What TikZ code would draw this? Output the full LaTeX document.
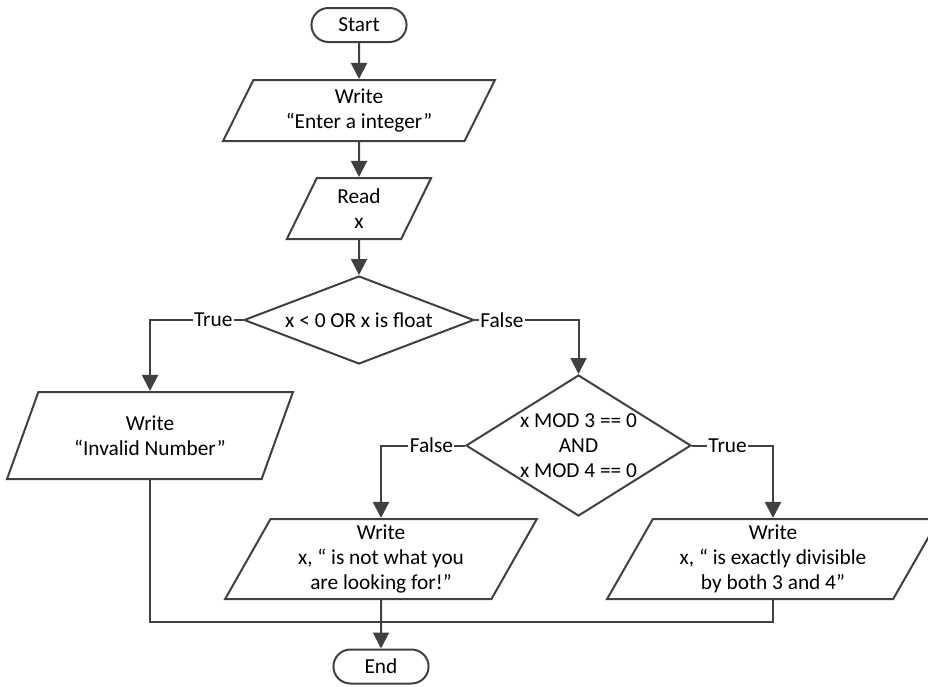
\documentclass[tikz,border=0pt]{standalone}
\usepackage{fontspec}
\setmainfont{Carlito}
\usetikzlibrary{
    arrows.meta,
    shapes.geometric,
    shapes.misc,
    positioning
}
\definecolor{flowgray}{RGB}{64,64,64}
\tikzset{
    % Box styles
    terminal box/.style={
        draw=flowgray,
        line width=1.5pt,
        rounded rectangle,
        minimum width=78pt,
        minimum height=25.5pt,
        align=center
    },
    io box/.style={
        draw=flowgray,
        line width=1.5pt,
        trapezium,
        trapezium left angle=#1,
        trapezium right angle={180-#1},
        trapezium stretches=true,
        inner sep=1pt,
        align=center
    },
    decision box/.style={
        draw=flowgray,
        line width=1.5pt,
        diamond,
        inner sep=0pt,
        align=center
    },
    % Arrow styles
    flow line/.style={
        draw=flowgray,
        line width=1.5pt
    },
    flow arrow/.style={
        flow line,
        -{Triangle[width=12pt,length=12pt]}
    },
    line label/.style={
        fill=white,
        inner sep=1pt,
        text=black
    },
    every node/.style={font=\fontsize{16}{18.75}\selectfont}
}

\begin{document}
\begin{tikzpicture}[x=0.75pt,y=-0.75pt]
        \useasboundingbox (0,0) rectangle (928,686);

        % Define nodes
        \node[terminal box] (start) at (359,25) {Start};
        \node[io box=65, minimum width=204pt, minimum height=45.75pt] (prompt) at (359,110.5) {Write\\“Enter a integer”};
        \node[io box=69, minimum width=108.75pt, minimum height=45.75pt] (read) at (359,208.5) {Read\\x};
        \node[decision box, aspect=2.6, minimum width=172.5pt, minimum height=66pt] (check) at (359,320) {x < 0 OR x is float};
        \node[io box=63, minimum width=214.5pt, minimum height=65.25pt] (invalid) at (150,435.5) {Write\\“Invalid Number”};
        \node[decision box, aspect=1.6, minimum width=168.75pt, minimum height=105.75pt] (divisible) at (578.5,445.5) {x MOD 3 == 0\\AND\\x MOD 4 == 0};
        \node[io box=64, minimum width=234pt, minimum height=60pt] (notfound) at (381,559) {Write\\x, “ is not what you\\are looking for!”};
        \node[io box=63, minimum width=249pt, minimum height=60pt] (found) at (773,559) {Write\\x, “ is exactly divisible\\by both 3 and 4”};
        \node[terminal box] (end) at (381,666.5) {End};
        \coordinate (merge) at (381,622);

        % Draw edges
        \draw[flow arrow] (start.south) -- (prompt.north);
        \draw[flow arrow] (prompt.south) -- (read.north);
        \draw[flow arrow] (read.south) -- (check.north);
        \draw[flow arrow] (check.west) -| node[line label, pos=0.16] {True} (invalid.north);
        \draw[flow arrow] (check.east) -| node[line label, pos=0.13] {False} (divisible.north);
        \draw[flow arrow] (divisible.west) -| node[line label, pos=0.2] {False} (notfound.north);
        \draw[flow arrow] (divisible.east) -| node[line label, pos=0.22] {True} (found.north);

        % Join the branches
        \draw[flow line] (invalid.south) |- (merge) -| (found.south);
        \draw[flow arrow] (notfound.south) -- (end.north);
    \end{tikzpicture}
\end{document}
